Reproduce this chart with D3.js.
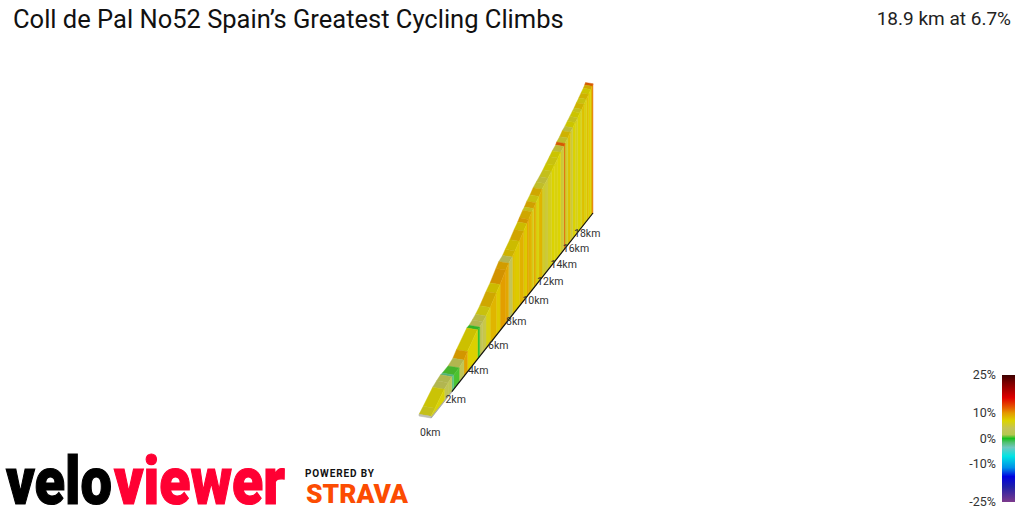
<!DOCTYPE html>
<html>
<head>
<meta charset="utf-8">
<script src="https://cdn.jsdelivr.net/npm/d3@7"></script>
<style>
    html, body { margin: 0; padding: 0; background: #fff; }
    svg { display: block; }
    text { font-family: Roboto, sans-serif; }
</style>
</head>
<body>
<script>
// Road segments: where each one ends (km) and its gradient (%)
const segmentEnd = [0.3, 1.0, 1.3, 1.6, 1.75, 2.2, 2.6, 2.9, 3.8, 4.0, 4.3, 4.6, 5.0, 5.6, 6.0, 6.6, 6.9, 7.3, 7.6, 8.1,
    8.6, 9.0, 9.2, 9.6, 9.8, 10.1, 10.5, 10.9, 11.3, 11.7, 12.2, 12.6, 13.1, 13.5, 14.0, 14.15, 14.6, 15.0, 15.4, 15.8,
    16.2, 16.6, 16.9, 17.3, 17.7, 18.1, 18.5, 18.75, 18.9];
const segmentGrade = [6, 6.8, 3.5, 3, -2, 0.5, 3.2, 9.6, 7.2, 0.3, 3.8, 4.5, 6.5, 8.6, 7.5, 9.8, 9.2, 4, 8, 7.5,
    8.8, 7.5, 9.6, 8.6, 6, 9, 6.5, 8.6, 5.5, 5, 6, 7, 6.5, 7, 5, 12, 5.5, 8, 5, 7,
    6, 7, 6, 8, 6.5, 8, 7, 8.5, 12];

const kmTicks = [0, 2, 4, 6, 8, 10, 12, 14, 16, 18];

// Colour ramp used by the legend and the road
const rampGrades = [25, 22, 16, 12, 10, 7, 4, 1.5, 0, -1.5, -3.5, -7, -11.5, -15, -19, -25];
const rampColors = ["#3c0000", "#7a0000", "#e00000", "#e66000", "#e49a00", "#dcd400", "#c4c458", "#b4c850", "#18c020", "#50c070",
    "#70c8c0", "#00e4e4", "#0090e8", "#0000e0", "#2020a8", "#7d3a8c"];
const legendTicks = [25, 10, 0, -10, -25];

const title = "Coll de Pal No52 Spain’s Greatest Cycling Climbs";
const summary = "18.9 km at 6.7%";

const width = 1024;
const height = 512;

const svg = d3.select("body").append("svg")
    .attr("width", width)
    .attr("height", height);

const color = d3.scaleLinear().domain(rampGrades).range(rampColors);

// Perspective: things further up the road shrink
const shrink = km => 1 / (1 + 0.0317 * km);
const road = km => km * 0.0872 * shrink(km);
const totalKm = d3.max(segmentEnd);

const xBase = d3.scaleLinear().domain([0, road(totalKm)]).range([431, 593]);
const yBase = d3.scaleLinear().domain([0, road(totalKm)]).range([418, 213]);
const rise = d3.scaleLinear().domain([0, 1000]).range([0, 164]);

// Elevation gain at each segment boundary
const segments = [];
segmentEnd.forEach((end, i) => {
    const start = i ? segmentEnd[i - 1] : 0;
    const gainStart = i ? segments[i - 1].gainEnd : 10;
    segments.push({
        start, end, gainStart,
        gainEnd: gainStart + (end - start) * segmentGrade[i] * 10,
        grade: segmentGrade[i]
    });
});

// side: 0 is the near (right) edge, 1 the far (left) edge
function project(km, gain, side) {
    const s = shrink(km);
    return [
        xBase(road(km)) - 12 * s * side,
        yBase(road(km)) - 2 * s * side - rise(gain) * s
    ];
}

const line = d3.line();

// Draw from the far end back to the front
const roadGroup = svg.append("g");
const ordered = segments.slice().reverse();

ordered.forEach(d => {
    const c = color(d.grade);
    const dark = d3.color(c).darker(0.22).formatHex();

    roadGroup.append("path")
        .attr("d", line([
            project(d.start, d.gainStart, 0), project(d.end, d.gainEnd, 0),
            project(d.end, d.gainEnd, 1), project(d.start, d.gainStart, 1)
        ]) + "Z")
        .attr("fill", dark)
        .attr("stroke", dark)
        .attr("stroke-width", 0.4);

    roadGroup.append("path")
        .attr("d", line([
            project(d.start, 0, 0), project(d.end, 0, 0),
            project(d.end, d.gainEnd, 0), project(d.start, d.gainStart, 0)
        ]) + "Z")
        .attr("fill", c)
        .attr("stroke", c)
        .attr("stroke-width", 0.4);
});

// Front edge and base line
roadGroup.append("path")
    .attr("d", line([project(0, 0, 0), project(0, 0, 1), project(0, 10, 1), project(0, 10, 0)]) + "Z")
    .attr("fill", "#c4c4b8")
    .attr("stroke", "#b0b0a8")
    .attr("stroke-width", 0.5);

roadGroup.append("path")
    .attr("d", line([project(0, 0, 0), project(1.6, 0, 0)]))
    .attr("stroke", "#aaaaaa")
    .attr("stroke-width", 1.2);

roadGroup.append("path")
    .attr("d", line([project(1.6, 0, 0), project(totalKm, 0, 0)]))
    .attr("stroke", "#111111")
    .attr("stroke-width", 1.2);

// Distance labels
svg.append("g")
    .selectAll("text")
    .data(kmTicks)
    .join("text")
    .attr("x", d => xBase(road(d)) - 11 - d * 0.17)
    .attr("y", d => yBase(road(d)) + 18)
    .attr("font-size", 10.5)
    .attr("fill", "#333")
    .text(d => d + "km");

// Title and summary
svg.append("text")
    .attr("x", 13)
    .attr("y", 28)
    .attr("font-size", 25.5)
    .attr("fill", "#111")
    .text(title);

svg.append("text")
    .attr("x", 1011)
    .attr("y", 25)
    .attr("text-anchor", "end")
    .attr("font-size", 19)
    .attr("fill", "#222")
    .text(summary);

// Legend
const yLegend = d3.scaleLinear().domain([25, -25]).range([375, 502]);

const gradient = svg.append("defs").append("linearGradient")
    .attr("id", "ramp")
    .attr("x1", 0).attr("x2", 0).attr("y1", 0).attr("y2", 1);

gradient.selectAll("stop")
    .data(rampGrades)
    .join("stop")
    .attr("offset", d => (25 - d) / 50)
    .attr("stop-color", d => color(d));

svg.append("rect")
    .attr("x", 1002)
    .attr("y", yLegend(25))
    .attr("width", 13)
    .attr("height", yLegend(-25) - yLegend(25))
    .attr("fill", "url(#ramp)");

svg.append("g")
    .selectAll("text")
    .data(legendTicks)
    .join("text")
    .attr("x", 996)
    .attr("y", d => yLegend(d) + 4)
    .attr("text-anchor", "end")
    .attr("font-size", 12.5)
    .attr("fill", "#333")
    .text(d => d + "%");

// Logos, as text stretched to the width they take up in the picture
function logoText(label, x, y, size, targetWidth, fill, strokeWidth) {
    const t = svg.append("text")
        .attr("font-size", size)
        .attr("font-weight", 900)
        .attr("fill", fill)
        .attr("stroke", fill)
        .attr("stroke-width", strokeWidth)
        .text(label);
    const sx = targetWidth / t.node().getComputedTextLength();
    t.attr("transform", `translate(${x},${y}) scale(${sx},1)`);
}

logoText("velo", 6, 504, 66, 106, "#000", 1.2);
logoText("viewer", 114, 504, 66, 171, "#ff0033", 1.2);
logoText("STRAVA", 306, 503, 26, 102, "#fc4c02", 0);

svg.append("text")
    .attr("x", 305)
    .attr("y", 477)
    .attr("font-size", 10)
    .attr("font-weight", 700)
    .attr("fill", "#111")
    .attr("textLength", 69)
    .text("POWERED BY");
</script>
</body>
</html>
